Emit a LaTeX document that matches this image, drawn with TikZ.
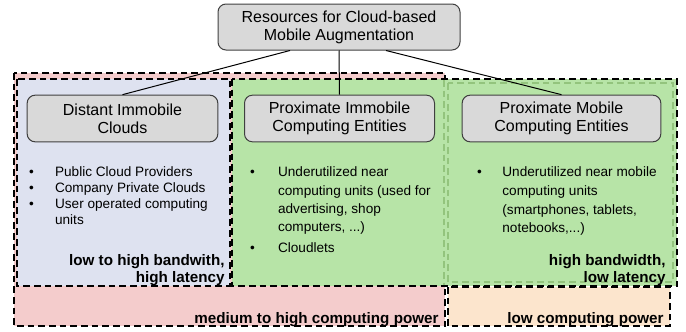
\documentclass[tikz,border=0pt]{standalone}
\usepackage{fontspec}
\setmainfont{Liberation Sans}
\definecolor{zonepink}{HTML}{F4CCCC}
\definecolor{zoneblue}{HTML}{DEE2F0}
\definecolor{zonegreen}{HTML}{B7E4A7}
\definecolor{zonepeach}{HTML}{FCE5CD}
\definecolor{edgegreen}{HTML}{93C47D}
\definecolor{boxgray}{HTML}{D9D9D9}
\begin{document}
\begin{tikzpicture}[x=0.75pt, y=-0.75pt, line width=0.75pt,
  zone/.style={draw=black, line width=1.4pt, dash pattern=on 5pt off 3pt},
  softzone/.style={draw=edgegreen, line width=1pt, dash pattern=on 5pt off 3pt},
  catbox/.style={draw=black!75, fill=boxgray, rounded corners=6pt, align=center,
    font=\fontsize{12}{13.5}\selectfont, inner sep=0pt},
  itemlist/.style={anchor=north west, inner sep=0pt, align=left},
  note/.style={inner sep=0pt, align=right, font=\fontsize{11.4}{12.75}\selectfont\bfseries}]
  \useasboundingbox (0,0) rectangle (686,332);
  % computing power zones
  \draw[zone, fill=zonepink] (14,73) rectangle (445,326);
  \draw[zone, fill=zonepeach] (448,287) rectangle (670,326);
  % bandwidth / latency zones
  \draw[zone, fill=zonegreen] (232,79) rectangle (677,286);
  \draw[zone, fill=zoneblue] (17,79) rectangle (230,286);
  \draw[softzone] (444,80) -- (444,285);
  \draw[softzone] (448,83) rectangle (673,282);
  % root and categories
  \node[catbox, minimum width=181.5pt, minimum height=34.5pt] (res) at (339,27)
    {Resources for Cloud-based\\Mobile Augmentation};
  \node[catbox, minimum width=143pt, minimum height=35pt] (dic) at (122.5,118.5)
    {Distant Immobile\\Clouds};
  \node[catbox, minimum width=142.5pt, minimum height=35pt] (pic) at (339.5,118.5)
    {Proximate Immobile\\Computing Entities};
  \node[catbox, minimum width=149pt, minimum height=35pt] (pmc) at (561.5,118.5)
    {Proximate Mobile\\Computing Entities};
  \draw ([xshift=-36.75pt]res.south) -- (dic.north);
  \draw (res.south) -- (pic.north);
  \draw ([xshift=35.25pt]res.south) -- (pmc.north);
  % examples per category
  \node[itemlist, font=\fontsize{10.2}{12}\selectfont] (dicitems) at (28.6,165)
    {\begin{tabular}{@{}p{19.5pt}@{}l@{}}
      \textbullet & Public Cloud Providers\\
      \textbullet & Company Private Clouds\\
      \textbullet & User operated computing\\
                  & units
    \end{tabular}};
  \node[itemlist, font=\fontsize{10.2}{13.7}\selectfont] (picitems) at (249.6,163.7)
    {\begin{tabular}{@{}p{21pt}@{}l@{}}
      \textbullet & Underutilized near\\
                  & computing units (used for\\
                  & advertising, shop\\
                  & computers, ...)\\[1.5pt]
      \textbullet & Cloudlets
    \end{tabular}};
  \node[itemlist, font=\fontsize{10.2}{13.9}\selectfont] (pmcitems) at (476.6,163.5)
    {\begin{tabular}{@{}p{19pt}@{}l@{}}
      \textbullet & Underutilized near mobile\\
                  & computing units\\
                  & (smartphones, tablets,\\
                  & notebooks,...)
    \end{tabular}};
  % zone labels
  \node[note, anchor=north east] (dicnote) at (225,254) {low to high bandwith,\\high latency};
  \node[note, anchor=north east] (pmcnote) at (666,254) {high bandwidth,\\low latency};
  \node[note, anchor=base east] (highpower) at (439,323) {medium to high computing power};
  \node[note, anchor=base east] (lowpower) at (664,323) {low computing power};
\end{tikzpicture}
\end{document}
